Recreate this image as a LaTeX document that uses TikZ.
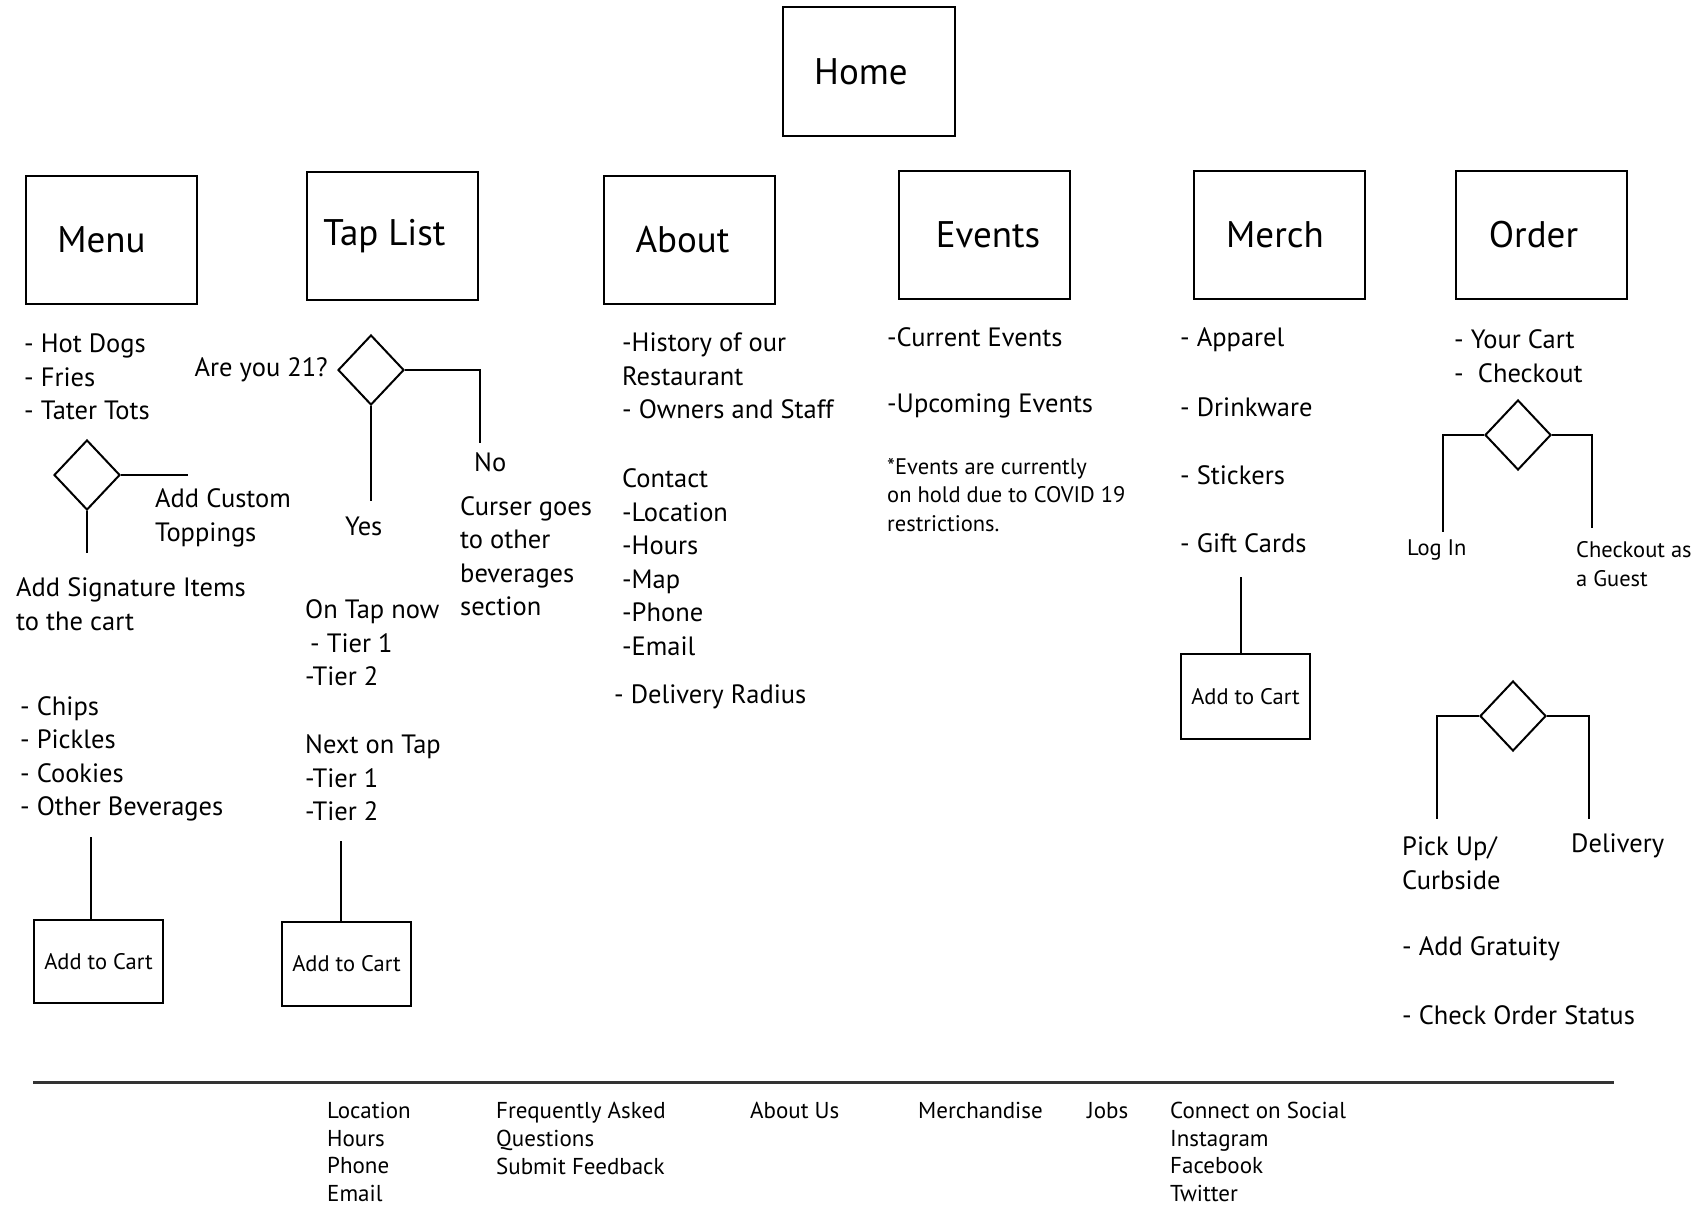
\documentclass[tikz,border=0pt]{standalone}
\usepackage{fontspec}
\setmainfont{PT Sans}
\usetikzlibrary{shapes.geometric}
\tikzset{
  pagebox/.style={draw, line width=2pt, minimum width=171pt, minimum height=128pt, inner sep=0pt, font=\fontsize{37}{42}\selectfont},
  cartbox/.style={draw, line width=2pt, minimum width=129pt, minimum height=84pt, inner sep=0pt, font=\fontsize{22.5}{26}\selectfont},
  choice/.style={draw, diamond, line width=2pt, minimum width=66pt, minimum height=70pt, inner sep=0pt},
  txt/.style={anchor=west, inner sep=0pt, align=left, font=\fontsize{26.5}{33.5}\selectfont},
  smalltxt/.style={anchor=west, inner sep=0pt, align=left, font=\fontsize{22.5}{28.5}\selectfont},
  foot/.style={anchor=west, inner sep=0pt, align=left, font=\fontsize{23}{27.7}\selectfont},
  conn/.style={line width=2pt},
}
\begin{document}
\begin{tikzpicture}[x=1pt,y=-1pt]
\useasboundingbox (0,0) rectangle (1701,1207);
\fill[white] (0,0) rectangle (1701,1207);

% top-level pages
\node[pagebox, minimum height=129pt, minimum width=172pt] (home) at (869,71.5) {\hspace*{-16pt}Home};
\node[pagebox] (menu) at (111.5,240) {\hspace*{-20pt}Menu};
\node[pagebox] (tap) at (392.5,236) {\hspace*{-16pt}Tap List};
\node[pagebox] (about) at (689,240) {\hspace*{-13pt}About};
\node[pagebox] (events) at (984,235) {\hspace*{8pt}Events};
\node[pagebox] (merch) at (1279,235) {\hspace*{-8pt}Merch};
\node[pagebox] (order) at (1541.5,235) {\hspace*{-16pt}Order};

% Menu column
\node[txt] (mfood) at (24,377) {- Hot Dogs\\- Fries\\- Tater Tots};
\node[choice] (dmenu) at (87,475) {};
\coordinate (dmenuR) at (188,475);
\coordinate (dmenuB) at (87,553);
\draw[conn] (dmenu.east) -- (dmenuR);
\draw[conn] (dmenu.south) -- (dmenuB);
\node[txt] (custom) at (155,518) {Add Custom\\Toppings};
\node[txt] (signature) at (16,604) {Add Signature Items\\to the cart};
\node[txt] (sides) at (20,759) {- Chips\\- Pickles\\- Cookies\\- Other Beverages};
\coordinate (cart1top) at (91,837);
\node[cartbox, minimum height=83pt] (cart1) at (98.5,961.5) {Add to Cart};
\draw[conn] (cart1top) -- (cart1top |- cart1.north);

% Tap List column
\node[txt, anchor=east] (are21) at (328,370) {Are you 21?};
\node[choice] (dtap) at (371,370) {};
\coordinate (dtapR) at (480,443);
\coordinate (dtapB) at (371,501);
\draw[conn] (dtap.east) -| (dtapR);
\draw[conn] (dtap.south) -- (dtapB);
\node[txt] (yes) at (345,526) {Yes};
\node[txt] (no) at (474,462) {No};
\node[txt] (curser) at (460,556) {Curser goes\\to other\\beverages\\section};
\node[txt] (ontap) at (305,643) {On Tap now\\\hspace*{5pt}- Tier 1\\-Tier 2};
\node[txt] (nexttap) at (305,778) {Next on Tap\\-Tier 1\\-Tier 2};
\coordinate (cart2top) at (341,841);
\node[cartbox] (cart2) at (346.5,964) {Add to Cart};
\draw[conn] (cart2top) -- (cart2top |- cart2.north);

% About column
\node[txt] (history) at (622,376) {-History of our\\Restaurant\\- Owners and Staff};
\node[txt] (contact) at (622,562) {Contact\\-Location\\-Hours\\-Map\\-Phone\\-Email};
\node[txt] (radius) at (614,697) {- Delivery Radius};

% Events column
\node[txt] (current) at (887,337) {-Current Events};
\node[txt] (upcoming) at (887,406) {-Upcoming Events};
\node[smalltxt] (note) at (887,495) {*Events are currently\\on hold due to COVID 19\\restrictions.};

% Merch column
\node[txt] (apparel) at (1180,340) {- Apparel};
\node[txt] (drinkware) at (1180,407) {- Drinkware};
\node[txt] (stickers) at (1180,475) {- Stickers};
\node[txt] (giftcards) at (1180,543) {- Gift Cards};
\coordinate (cart3top) at (1241,577);
\node[cartbox, minimum height=85pt] (cart3) at (1245.5,696.5) {Add to Cart};
\draw[conn] (cart3top) -- (cart3top |- cart3.north);

% Order column
\node[txt] (yourcart) at (1454,356) {- Your Cart\\-\ \ Checkout};
\node[choice] (dorder) at (1518,435) {};
\coordinate (dorderL) at (1443,532);
\coordinate (dorderR) at (1592,528);
\draw[conn] (dorder.west) -| (dorderL);
\draw[conn] (dorder.east) -| (dorderR);
\node[smalltxt] (login) at (1407,550) {Log In};
\node[smalltxt] (guest) at (1576,564) {Checkout as\\a Guest};
\node[choice] (dship) at (1513,716) {};
\coordinate (dshipL) at (1437,819);
\coordinate (dshipR) at (1589,819);
\draw[conn] (dship.west) -| (dshipL);
\draw[conn] (dship.east) -| (dshipR);
\node[txt] (pickup) at (1402,863) {Pick Up/\\Curbside};
\node[txt] (delivery) at (1571,846) {Delivery};
\node[txt] (gratuity) at (1402,949) {- Add Gratuity};
\node[txt] (status) at (1402,1015) {- Check Order Status};

% Footer
\coordinate (footL) at (33,1082);
\coordinate (footR) at (1614,1082);
\draw[line width=3pt, black!80] (footL) -- (footR);
\node[foot] (fcontact) at (327,1152) {Location\\Hours\\Phone\\Email};
\node[foot] (ffaq) at (496,1138.5) {Frequently Asked\\Questions\\Submit Feedback};
\node[foot] (faboutus) at (750,1110.5) {About Us};
\node[foot] (fmerch) at (918,1110.5) {Merchandise};
\node[foot] (fjobs) at (1087,1110.5) {Jobs};
\node[foot] (fsocial) at (1170,1152) {Connect on Social\\Instagram\\Facebook\\Twitter};
\end{tikzpicture}
\end{document}
